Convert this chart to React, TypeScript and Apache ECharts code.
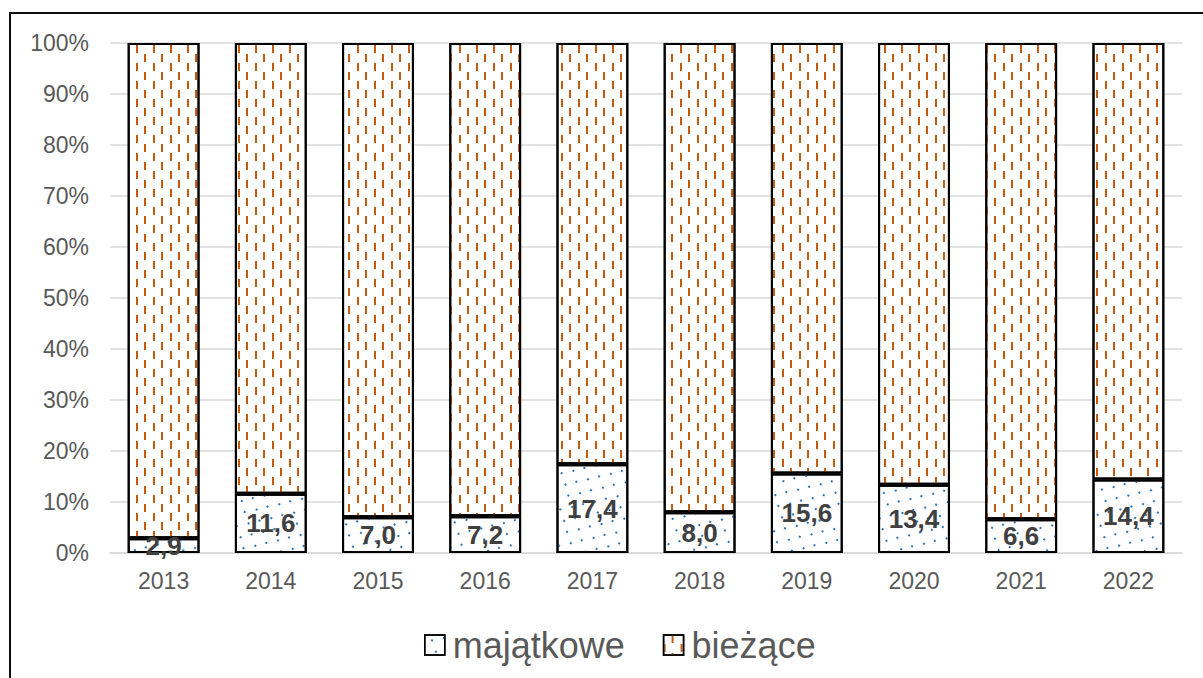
import React, { useEffect, useRef } from "react";
import * as echarts from "echarts";

const years = ["2013", "2014", "2015", "2016", "2017", "2018", "2019", "2020", "2021", "2022"];
const majatkowe = [2.9, 11.6, 7.0, 7.2, 17.4, 8.0, 15.6, 13.4, 6.6, 14.4];
const biezace = [97.1, 88.4, 93.0, 92.8, 82.6, 92.0, 84.4, 86.6, 93.4, 85.6];
const yTicks = [0, 10, 20, 30, 40, 50, 60, 70, 80, 90, 100];

const FONT = "'Liberation Sans', Arial, sans-serif";

export default function App() {
  const ref = useRef<HTMLDivElement>(null);
  useEffect(() => {
    if (!ref.current) return;
    const chart = echarts.init(ref.current, null, { renderer: "svg" });
    chart.setOption({
      animation: false,
      backgroundColor: "#ffffff",
      aria: { enabled: true, decal: { show: true } },
      textStyle: { fontFamily: FONT },
      graphic: [
        {
          type: "rect",
          shape: { x: 10, y: 13, width: 1400, height: 900 },
          style: { fill: "none", stroke: "#0d0d0d", lineWidth: 2 },
          silent: true,
        },
      ],
      grid: { left: 110, right: 21, top: 43, bottom: 125 },
      legend: {
        left: 419,
        top: 622,
        itemWidth: 20,
        itemHeight: 20,
        itemGap: 38,
        icon: "rect",
        textStyle: { fontSize: 36, color: "#595959", fontFamily: FONT, padding: [0, 0, 0, 3] },
        itemStyle: { borderColor: "#000000", borderWidth: 1.5 },
        data: ["majątkowe", "bieżące"],
      },
      xAxis: {
        type: "category",
        data: years,
        axisLine: { show: true, lineStyle: { color: "#d9d9d9", width: 1.5 } },
        axisTick: { show: false },
        axisLabel: { color: "#595959", fontSize: 23, margin: 16, fontFamily: FONT },
      },
      yAxis: {
        type: "value",
        min: yTicks[0],
        max: yTicks[yTicks.length - 1],
        interval: 10,
        axisLine: { show: false },
        axisTick: { show: false },
        splitLine: { lineStyle: { color: "#d9d9d9", width: 1.5 } },
        axisLabel: {
          color: "#595959",
          fontSize: 23,
          margin: 21,
          fontFamily: FONT,
          formatter: (v: number) => `${v}%`,
        },
      },
      series: [
        {
          name: "majątkowe",
          type: "bar",
          stack: "total",
          barWidth: "67%",
          data: majatkowe,
          itemStyle: {
            color: "#ffffff",
            borderColor: "#000000",
            borderWidth: 2,
            decal: {
              symbol: "rect",
              symbolSize: 1,
              color: "#2E75B6",
              backgroundColor: "rgba(0,0,0,0)",
              dashArrayX: [[2, 15], [0, 8, 2, 7]],
              dashArrayY: [2, 6],
            },
          },
          label: {
            show: true,
            position: "inside",
            color: "#404040",
            fontWeight: "bold",
            fontSize: 26,
            fontFamily: FONT,
            formatter: (p: any) => Number(p.value).toFixed(1).replace(".", ","),
          },
        },
        {
          name: "bieżące",
          type: "bar",
          stack: "total",
          barWidth: "67%",
          data: biezace,
          itemStyle: {
            color: "#ffffff",
            borderColor: "#000000",
            borderWidth: 2,
            decal: {
              symbol: "rect",
              symbolSize: 1,
              color: "#C55A11",
              backgroundColor: "rgba(0,0,0,0)",
              dashArrayX: [[2, 15], [0, 8, 2, 7]],
              dashArrayY: [8, 1],
            },
          },
        },
      ],
    });
    return () => chart.dispose();
  }, []);
  return (
    <div
      ref={ref}
      style={{ position: "absolute", left: 0, top: 0, width: 1203, height: 678 }}
    />
  );
}
